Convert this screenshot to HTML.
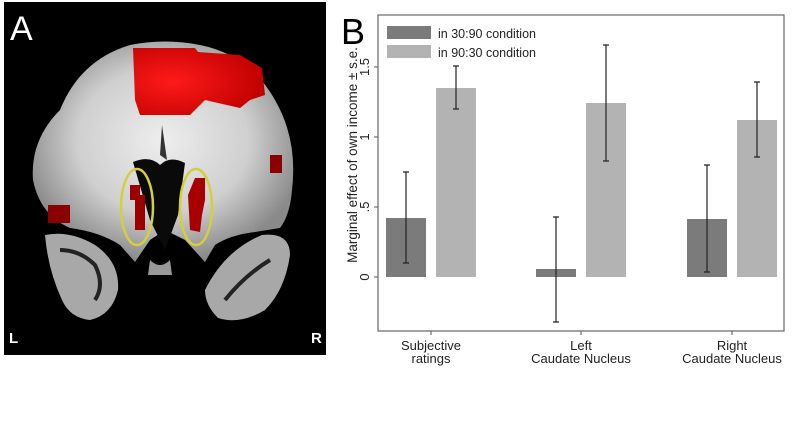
<!DOCTYPE html>
<html><head><meta charset="utf-8"><style>
html,body{margin:0;padding:0;background:#fff;width:795px;height:444px;overflow:hidden}
svg{display:block}
text{font-family:"Liberation Sans",sans-serif}
</style></head><body>
<svg width="795" height="444" viewBox="0 0 795 444" xmlns="http://www.w3.org/2000/svg">
<defs>
<radialGradient id="bg" cx="50%" cy="45%" r="55%">
<stop offset="0" stop-color="#eeeeee"/><stop offset="0.6" stop-color="#cfcfcf"/><stop offset="1" stop-color="#8a8a8a"/>
</radialGradient>
<radialGradient id="rg" cx="30%" cy="50%" r="70%">
<stop offset="0" stop-color="#ff1a1a"/><stop offset="1" stop-color="#c00000"/>
</radialGradient>
</defs>
<rect x="4" y="2" width="322" height="353" fill="#000"/>
<path d="M60 110 Q80 60 130 45 Q165 38 200 45 Q250 55 275 100 Q298 140 292 190 Q290 215 280 228 L255 232 Q230 235 215 245 L205 262 L185 240 L165 230 L150 240 L135 262 L120 245 Q100 232 70 228 Q40 215 33 180 Q30 140 60 110 Z" fill="url(#bg)"/>
<path d="M45 235 Q70 230 95 245 Q120 262 118 290 Q112 315 90 320 Q70 318 62 300 Q48 270 45 235 Z" fill="#a8a8a8"/>
<path d="M60 250 Q80 250 95 265 Q105 285 95 300" fill="none" stroke="#222" stroke-width="4"/>
<path d="M205 290 Q225 250 262 235 Q290 232 290 255 Q285 290 265 310 Q240 325 218 318 Q205 305 205 290 Z" fill="#a8a8a8"/>
<path d="M225 300 Q245 275 270 260" fill="none" stroke="#222" stroke-width="4"/>
<path d="M150 260 Q160 270 170 260 L172 275 L148 275 Z" fill="#999"/>
<path d="M133 162 Q150 155 160 165 Q170 155 185 163 L178 215 L165 250 L150 220 Z" fill="#0a0a0a"/>
<path d="M162 125 L167 160 L160 155 Z" fill="#333"/>
<path d="M133 48 L195 48 L198 52 L240 55 L262 68 L265 95 L250 100 L240 108 L205 100 L190 115 L140 115 L135 100 Z" fill="url(#rg)"/>
<rect x="48" y="205" width="22" height="18" fill="#8b0000"/>
<rect x="270" y="155" width="12" height="18" fill="#8b0000"/>
<path d="M130 185 L140 185 L140 195 L145 195 L145 230 L135 230 L135 200 L130 200 Z" fill="#9a0000"/>
<path d="M195 178 L205 178 L205 200 L202 215 L200 232 L190 230 L188 195 Z" fill="#a80000"/>
<ellipse cx="137" cy="207" rx="16" ry="38" fill="none" stroke="#d4cf3a" stroke-width="2.5"/>
<ellipse cx="196" cy="207" rx="16" ry="38" fill="none" stroke="#d4cf3a" stroke-width="2.5"/>
<text x="10" y="40" font-size="34" fill="#fff">A</text>
<text x="9" y="343" font-size="15" font-weight="bold" fill="#fff">L</text>
<text x="311" y="343" font-size="15" font-weight="bold" fill="#fff">R</text>
<text x="341" y="44" font-size="36" fill="#000">B</text>
<rect x="378" y="15" width="406" height="316" fill="#fff" stroke="#666" stroke-width="1.2"/>
<rect x="387" y="26" width="44" height="13" fill="#7b7b7b"/>
<rect x="387" y="45" width="44" height="13" fill="#b3b3b3"/>
<text x="438" y="38" font-size="12.5" fill="#222">in 30:90 condition</text>
<text x="438" y="57" font-size="12.5" fill="#222">in 90:30 condition</text>
<g stroke="#555" stroke-width="1">
<line x1="374" y1="277" x2="378" y2="277"/><line x1="374" y1="207" x2="378" y2="207"/>
<line x1="374" y1="137" x2="378" y2="137"/><line x1="374" y1="67" x2="378" y2="67"/>
<line x1="431" y1="331" x2="431" y2="335"/><line x1="581" y1="331" x2="581" y2="335"/><line x1="732" y1="331" x2="732" y2="335"/>
</g>
<g font-size="13" fill="#222" text-anchor="middle">
<text transform="translate(369,277) rotate(-90)">0</text>
<text transform="translate(369,207) rotate(-90)">.5</text>
<text transform="translate(369,137) rotate(-90)">1</text>
<text transform="translate(369,67) rotate(-90)">1.5</text>
<text transform="translate(357,155) rotate(-90)" font-size="13.5">Marginal effect of own income ± s.e.</text>
</g>
<rect x="386" y="218" width="40" height="59" fill="#7b7b7b"/>
<rect x="436" y="88" width="40" height="189" fill="#b3b3b3"/>
<rect x="536" y="269" width="40" height="8" fill="#7b7b7b"/>
<rect x="586" y="103" width="40" height="174" fill="#b3b3b3"/>
<rect x="687" y="219" width="40" height="58" fill="#7b7b7b"/>
<rect x="737" y="120" width="40" height="157" fill="#b3b3b3"/>
<g stroke="#222" stroke-width="1.2">
<path d="M406 172V263M403 172h6M403 263h6"/>
<path d="M456 66V109M453 66h6M453 109h6"/>
<path d="M556 217V322M553 217h6M553 322h6"/>
<path d="M606 45V161M603 45h6M603 161h6"/>
<path d="M707 165V272M704 165h6M704 272h6"/>
<path d="M757 82V157M754 82h6M754 157h6"/>
</g>
<g font-size="13" fill="#222" text-anchor="middle">
<text x="431" y="350">Subjective</text><text x="431" y="363">ratings</text>
<text x="581" y="350">Left</text><text x="581" y="363">Caudate Nucleus</text>
<text x="732" y="350">Right</text><text x="732" y="363">Caudate Nucleus</text>
</g>
</svg>
</body></html>
